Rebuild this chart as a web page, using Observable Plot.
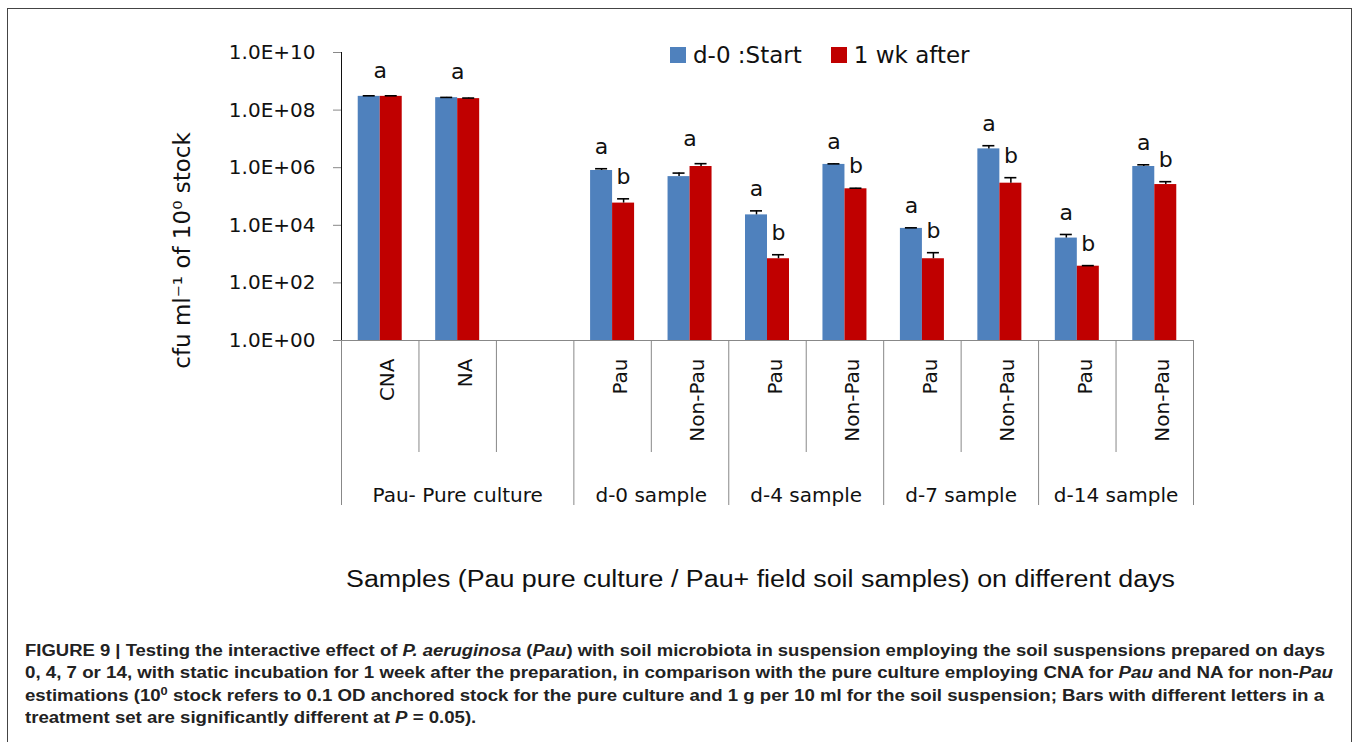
<!DOCTYPE html>
<html><head><meta charset="utf-8">
<script src="https://cdn.jsdelivr.net/npm/d3@7"></script>
<script src="https://cdn.jsdelivr.net/npm/@observablehq/plot@0.6"></script>
<style>
html,body{margin:0;padding:0;background:#fff;}
body{width:1360px;height:742px;position:relative;overflow:hidden;font-family:"DejaVu Sans",sans-serif;}
#frame{position:absolute;left:7px;top:8px;width:1345px;height:780px;border:1.5px solid #444;box-sizing:border-box;}
#main,#panel,#legend,#xtitle,#caption{position:absolute;}
#main{left:0;top:0}
#panel{left:0;top:340px}
#legend{left:670px;top:38px}
#xtitle{top:566px;left:346px;font-family:"Liberation Sans",Arial,sans-serif;font-size:23px;white-space:nowrap;width:max-content;transform-origin:left center;color:#111;}
#caption{left:25px;top:640px;font-family:"Liberation Sans",Arial,sans-serif;font-weight:bold;font-size:16px;line-height:22.4px;color:#222;}
#caption .ln{white-space:nowrap;width:max-content;transform-origin:left center;}
#caption sup{font-size:11px;line-height:0;vertical-align:6px;}
.lg-swatch{margin-right:29px !important;}
.lg-swatch > svg{margin-right:7px !important;}
</style></head>
<body>
<div id="frame"></div>
<div id="main"></div>
<div id="panel"></div>
<div id="legend"></div>
<div id="xtitle" data-w="829">Samples (Pau pure culture / Pau+ field soil samples) on different days</div>
<div id="caption">
<div class="ln" data-w="1300">FIGURE 9 | Testing the interactive effect of <i>P. aeruginosa</i> (<i>Pau</i>) with soil microbiota in suspension employing the soil suspensions prepared on days</div>
<div class="ln" data-w="1308">0, 4, 7 or 14, with static incubation for 1 week after the preparation, in comparison with the pure culture employing CNA for <i>Pau</i> and NA for non-<i>Pau</i></div>
<div class="ln" data-w="1299">estimations (10<sup>0</sup> stock refers to 0.1 OD anchored stock for the pure culture and 1 g per 10 ml for the soil suspension; Bars with different letters in a</div>
<div class="ln" data-w="avg">treatment set are significantly different at <i>P</i> = 0.05).</div>
</div>
<script>
// ---- data ----
const groups = ["Pau- Pure culture", "d-0 sample", "d-4 sample", "d-7 sample", "d-14 sample"];
const slotLabels = ["CNA", "NA", "", "Pau", "Non-Pau", "Pau", "Non-Pau", "Pau", "Non-Pau", "Pau", "Non-Pau"];
const slotGroup = [0, 0, 0, 1, 1, 2, 2, 3, 3, 4, 4];
const seriesNames = ["d-0 :Start", "1 wk after"];
const seriesColors = ["#4F81BD", "#C00000"];
const startValues = [3.0e8, 2.7e8, null, 8.0e5, 4.9e5, 2.3e4, 1.3e6, 7.8e3, 4.5e6, 3.6e3, 1.1e6];
const afterValues = [3.0e8, 2.5e8, null, 5.9e4, 1.1e6, 690, 1.85e5, 690, 2.9e5, 380, 2.6e5];
const startErrors = [1.4e7, 6e6, null, 1.2e5, 1.6e5, 8.7e3, 6e4, 370, 1.3e6, 1.2e3, 1.6e5];
const afterErrors = [1.4e7, 1.2e7, null, 2.4e4, 2.8e5, 260, 8.7e3, 430, 1.6e5, 18, 6.7e4];
const pairLetters = ["a", "a", null, null, "a", null, null, null, null, null, null];
const startLetters = [null, null, null, "a", null, "a", "a", "a", "a", "a", "a"];
const afterLetters = [null, null, null, "b", null, "b", "b", "b", "b", "b", "b"];
const yTicks = [1, 1e2, 1e4, 1e6, 1e8, 1e10];
const yLabel = "cfu ml⁻¹ of 10⁰ stock";

// ---- layout ----
const W = 1360, L = 341, R = 167, T = 52, H = 345, BASE = 340;
const bw = (W - L - R) / slotLabels.length;
const barW = 22, capW = 12;
const font = "DejaVu Sans, sans-serif";

const slotIds = slotLabels.map((l, i) => `${groups[slotGroup[i]]} / ${l || "(gap)"}`);
const rows = [];
slotIds.forEach((id, i) => {
  if (startValues[i] != null) rows.push({slot: id, series: seriesNames[0], value: startValues[i], err: startErrors[i], letter: startLetters[i]});
  if (afterValues[i] != null) rows.push({slot: id, series: seriesNames[1], value: afterValues[i], err: afterErrors[i], letter: afterLetters[i]});
});
const startRows = rows.filter(d => d.series === seriesNames[0]);
const afterRows = rows.filter(d => d.series === seriesNames[1]);
const pairRows = slotIds.map((id, i) => ({slot: id, letter: pairLetters[i],
  top: Math.max(startValues[i] + startErrors[i], afterValues[i] + afterErrors[i])})).filter(d => d.letter);

function seriesMarks(data, k) {
  const sign = k === 0 ? -1 : 1;
  const off = barW / 2;
  return [
    Plot.barY(data, {x: "slot", y1: 1, y2: "value", fill: "series",
      insetLeft: k === 0 ? bw / 2 - barW : bw / 2, insetRight: k === 0 ? bw / 2 : bw / 2 - barW}),
    Plot.ruleX(data, {x: "slot", y1: "value", y2: d => d.value + d.err, dx: sign * off, stroke: "#000", strokeWidth: 1.5}),
    Plot.tickY(data, {x: "slot", y: d => d.value + d.err, stroke: "#000", strokeWidth: 1.6,
      insetLeft: bw / 2 + sign * off - capW / 2, insetRight: bw / 2 - sign * off - capW / 2}),
    Plot.text(data.filter(d => d.letter), {x: "slot", y: d => d.value + d.err, text: "letter", dx: sign * off, dy: -22, fontSize: 22, fill: "#111"})
  ];
}

const main = Plot.plot({
  width: W, height: H, marginLeft: L, marginRight: R, marginTop: T, marginBottom: H - BASE,
  style: {fontFamily: font, fontSize: "20px", color: "#111", background: "transparent", overflow: "visible"},
  x: {type: "band", domain: slotIds, padding: 0, round: false, axis: null},
  y: {type: "log", domain: [1, 1e10], ticks: yTicks, tickSize: 8, tickPadding: 18, line: true, label: null,
      tickFormat: d => "1.0E+" + String(Math.round(Math.log10(d))).padStart(2, "0")},
  color: {domain: seriesNames, range: seriesColors},
  marks: [
    ...seriesMarks(startRows, 0),
    ...seriesMarks(afterRows, 1),
    Plot.ruleY([1], {stroke: "#888"}),
    Plot.text(pairRows, {x: "slot", y: "top", text: "letter", dy: -25, fontSize: 22, fill: "#111"}),
    Plot.text([yLabel], {frameAnchor: "left", textAnchor: "middle", rotate: -90, dx: -159, dy: 54, fontSize: 23, fill: "#111"})
  ]
});
document.getElementById("main").appendChild(main);
d3.select(main).selectAll('g[aria-label^="y-axis"] line, g[aria-label^="y-axis"] path').attr("stroke", "#888");

// ---- category axis panel ----
const groupBounds = [0];
slotGroup.forEach((g, i) => { if (i > 0 && g !== slotGroup[i - 1]) groupBounds.push(i); });
groupBounds.push(slotGroup.length);
const innerBounds = d3.range(1, slotGroup.length).filter(i => !groupBounds.includes(i));
const groupCenters = groups.map((g, k) => ({name: g, c: (groupBounds[k] + groupBounds[k + 1]) / 2}));
const slotCenters = slotLabels.map((l, i) => ({l, c: i + 0.5})).filter(d => d.l);

const panel = Plot.plot({
  width: W, height: 165, marginLeft: L, marginRight: R, marginTop: 0, marginBottom: 0,
  style: {fontFamily: font, fontSize: "20px", color: "#111", background: "transparent", overflow: "visible"},
  x: {domain: [0, slotLabels.length], axis: null},
  marks: [
    Plot.ruleX(groupBounds, {stroke: "#888"}),
    Plot.ruleX(innerBounds, {stroke: "#888", insetBottom: 53}),
    Plot.text(slotCenters, {x: "c", text: "l", frameAnchor: "top", rotate: -90, textAnchor: "end", dy: 18, fontSize: 20, fill: "#111"}),
    Plot.text(groupCenters, {x: "c", text: "name", frameAnchor: "top", dy: 147, fontSize: 20, fill: "#111"})
  ]
});
document.getElementById("panel").appendChild(panel);

// ---- legend ----
const lg = Plot.legend({legend: "swatches", color: {domain: seriesNames, range: seriesColors},
  swatchSize: 16, className: "lg", style: {fontSize: "23px", fontFamily: font, color: "#111"}});
document.getElementById("legend").appendChild(lg);

// ---- fit text lines to reference widths ----
const scales = [];
document.querySelectorAll("[data-w]").forEach(el => {
  if (el.dataset.w === "avg") return;
  const s = +el.dataset.w / el.getBoundingClientRect().width;
  if (el.classList.contains("ln")) scales.push(s);
  el.style.transform = `scaleX(${s})`;
});
const avg = d3.mean(scales);
document.querySelectorAll('[data-w="avg"]').forEach(el => el.style.transform = `scaleX(${avg})`);
</script>
</body></html>
